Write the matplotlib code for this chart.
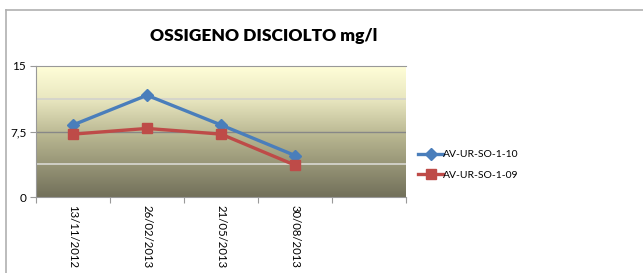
import numpy as np
import matplotlib.pyplot as plt
from matplotlib.colors import LinearSegmentedColormap
from matplotlib.lines import Line2D

categories = ["13/11/2012", "26/02/2013", "21/05/2013", "30/08/2013", ""]
blue_values = [8.25, 11.65, 8.25, 4.75]
red_values = [7.2, 7.85, 7.2, 3.65]
series_names = ["AV-UR-SO-1-10", "AV-UR-SO-1-09"]
yticks = [0, 7.5, 15]
ytick_labels = ["0", "7,5", "15"]

plt.rcParams['font.family'] = ['Lato', 'DejaVu Sans']

fig = plt.figure(figsize=(6.43, 2.73), dpi=100)
ax = fig.add_axes([36/643, 1 - 197/273, 370/643, 131/273])

# gradient background
cmap = LinearSegmentedColormap.from_list(
    "bg", [(0, "#72705a"), (0.45, "#b5b38e"), (0.75, "#e9e7c0"), (1, "#fffed8")])
grad = np.linspace(0, 1, 256).reshape(-1, 1)
ax.imshow(grad, cmap=cmap, aspect="auto", origin="lower",
          extent=[0, len(categories), 0, 15], zorder=0)

for y in [3.75, 11.25]:
    ax.axhline(y, color="#d4d4cc", lw=1.3, zorder=1)
ax.axhline(7.5, color="#878787", lw=1, zorder=1)

x = np.arange(len(blue_values)) + 0.5
ax.plot(x, blue_values, color="#4a7ebb", lw=2.4, marker="D", ms=6,
        label=series_names[0], zorder=3)
ax.plot(x, red_values, color="#be4b48", lw=2.4, marker="s", ms=7.5,
        label=series_names[1], zorder=3)

ax.set_xlim(0, len(categories))
ax.set_ylim(0, 15)
ax.set_yticks(yticks)
ax.set_yticklabels(ytick_labels, fontsize=8.5)
ax.set_xticks(np.arange(len(categories) + 1))
ax.set_xticklabels([])
ax.set_xticks(np.arange(len(categories)) + 0.5, minor=True)
ax.set_xticklabels(categories, minor=True, rotation=-90, fontsize=8.2, va="top")
ax.tick_params(axis="x", which="minor", length=0, pad=6)
ax.tick_params(axis="x", which="major", length=4, color="#999999")
ax.tick_params(axis="y", length=4, color="#999999", pad=3)
ax.spines["right"].set_visible(False)
for s in ["left", "bottom", "top"]:
    ax.spines[s].set_color("#999999")

fig.text(264/643, 1 - 36/273, "OSSIGENO DISCIOLTO mg/l", ha="center", va="center",
         fontsize=12.5, fontweight="heavy")

ax.legend(loc="center left", bbox_to_anchor=(409/643, 1 - 165/273),
          bbox_transform=fig.transFigure, frameon=False, fontsize=7.5,
          handlelength=2.4, handletextpad=0.0, labelspacing=1.1)

# outer chart frame
fig.add_artist(Line2D([6/643, 1], [1 - 10/273, 1 - 10/273], color="#b0b0b0", lw=1.2))
fig.add_artist(Line2D([6/643, 6/643], [0, 1 - 10/273], color="#b0b0b0", lw=1.2))

fig.savefig("out.png", dpi=100)
